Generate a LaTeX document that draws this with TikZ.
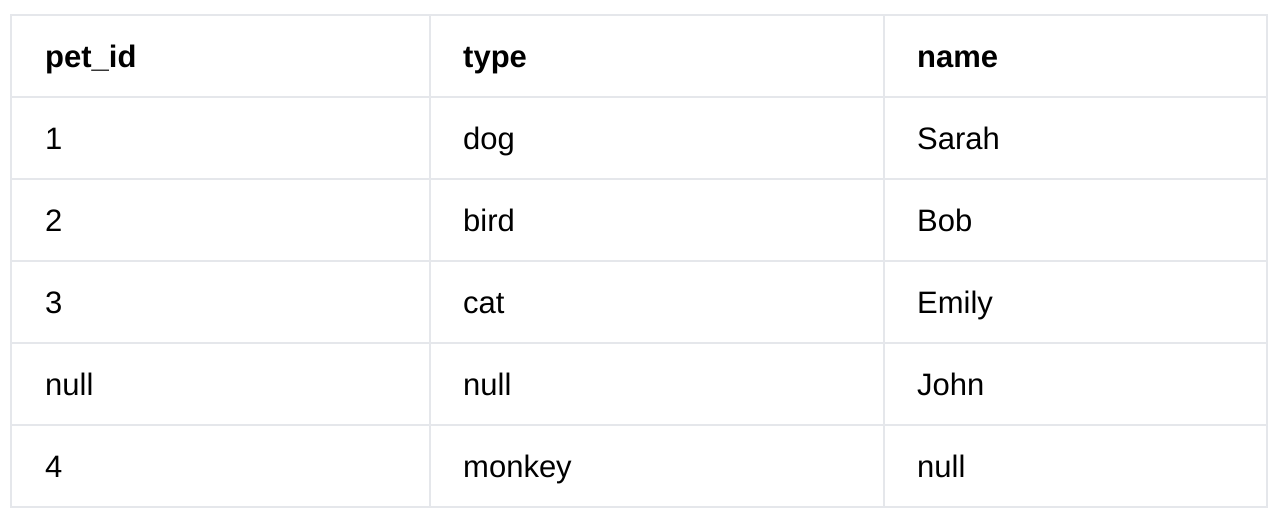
\documentclass[tikz,border=0pt]{standalone}
\usepackage{fontspec}
\setmainfont{Liberation Sans}
\definecolor{gridgray}{HTML}{E5E7EB}

\begin{document}
\begin{tikzpicture}[x=1pt,y=-1pt,
	cell/.style={anchor=base west,inner sep=0pt,font=\fontsize{31}{36}\selectfont},
	head/.style={cell,font=\fontsize{31}{36}\selectfont\bfseries},
	rule/.style={draw=gridgray,line width=2pt}]

\useasboundingbox (0,0) rectangle (1284,514);

%Create grid
\draw[rule] (11,15) rectangle (1267,507);
\draw[rule] (430,15) -- (430,507);
\draw[rule] (884,15) -- (884,507);
\draw[rule] (11,97) -- (1267,97);
\draw[rule] (11,179) -- (1267,179);
\draw[rule] (11,261) -- (1267,261);
\draw[rule] (11,343) -- (1267,343);
\draw[rule] (11,425) -- (1267,425);

%Create header
\node[head]	(hid)	at (45,67)	{pet\_id};
\node[head]	(htype)	at (463,67)	{type};
\node[head]	(hname)	at (917,67)	{name};

%Create rows
\node[cell]	(id1)	at (45,149)		{1};
\node[cell]	(type1)	at (463,149)	{dog};
\node[cell]	(name1)	at (917,149)	{Sarah};

\node[cell]	(id2)	at (45,231)		{2};
\node[cell]	(type2)	at (463,231)	{bird};
\node[cell]	(name2)	at (917,231)	{Bob};

\node[cell]	(id3)	at (45,313)		{3};
\node[cell]	(type3)	at (463,313)	{cat};
\node[cell]	(name3)	at (917,313)	{Emily};

\node[cell]	(id4)	at (45,395)		{null};
\node[cell]	(type4)	at (463,395)	{null};
\node[cell]	(name4)	at (917,395)	{John};

\node[cell]	(id5)	at (45,477)		{4};
\node[cell]	(type5)	at (463,477)	{monkey};
\node[cell]	(name5)	at (917,477)	{null};

\end{tikzpicture}
\end{document}
